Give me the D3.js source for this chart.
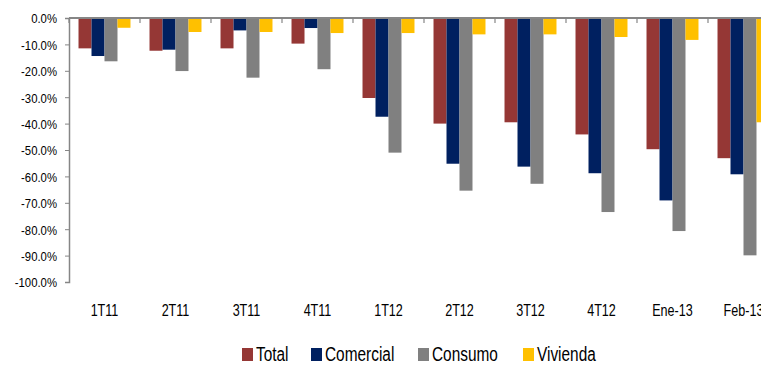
<!DOCTYPE html>
<html>
<head>
<meta charset="utf-8">
<script src="https://cdn.jsdelivr.net/npm/d3@7"></script>
<style>
  body { margin: 0; background: #fff; }
  svg text { font-family: "Liberation Sans", Arial, sans-serif; fill: #000; }
</style>
</head>
<body>
<div id="chart"></div>
<script>
// categories and series (percent change)
var categories = ["1T11", "2T11", "3T11", "4T11", "1T12", "2T12", "3T12", "4T12", "Ene-13", "Feb-13"];
var seriesNames = ["Total", "Comercial", "Consumo", "Vivienda"];
var total     = [-11.5, -12.4, -11.5, -9.7, -30.3, -40.0, -39.5, -44.1, -49.7, -53.1];
var comercial = [-14.4, -12.0, -4.7, -3.8, -37.4, -55.2, -56.3, -58.8, -69.1, -59.2];
var consumo   = [-16.4, -20.1, -22.6, -19.4, -51.0, -65.4, -62.8, -73.5, -80.7, -89.9];
var vivienda  = [-3.7, -5.3, -5.3, -5.7, -5.7, -6.2, -6.2, -7.2, -8.3, -39.5];
var yTicks = [0, -10, -20, -30, -40, -50, -60, -70, -80, -90, -100];

var colors = ["#953735", "#002060", "#808080", "#FFC000"];
var allSeries = [total, comercial, consumo, vivienda];

var svgWidth = 761;
var svgHeight = 365;

var margin = { top: 18, left: 69 };
var plotWidth = 710;   // runs past the right edge, like the original
var plotHeight = 264;

var svg = d3.select("#chart")
  .append("svg")
  .attr("width", svgWidth)
  .attr("height", svgHeight);

var chartGroup = svg.append("g")
  .attr("transform", `translate(${margin.left}, ${margin.top})`);

// narrow-font look: shorten the text run instead of scaling it
function squeeze(sel, k) {
  sel.each(function() {
    var len = this.getComputedTextLength();
    d3.select(this)
      .attr("textLength", len * k)
      .attr("lengthAdjust", "spacingAndGlyphs");
  });
}

//scales
var x0 = d3.scaleBand()
  .domain(categories)
  .range([0, plotWidth])
  .paddingInner(0.268)
  .paddingOuter(0.134);

var x1 = d3.scaleBand()
  .domain(seriesNames)
  .range([0, x0.bandwidth()]);

var y = d3.scaleLinear()
  .domain([0, -100])
  .range([0, plotHeight]);

//bars
var rows = categories.map(function(c, i) {
  return seriesNames.map(function(s, j) {
    return { cat: c, name: s, value: allSeries[j][i], color: colors[j] };
  });
});

chartGroup.selectAll("g.cat")
  .data(rows)
  .enter()
  .append("g")
  .attr("class", "cat")
  .attr("transform", (d, i) => `translate(${x0(categories[i])}, 0)`)
  .selectAll("rect")
  .data(d => d)
  .enter()
  .append("rect")
  .attr("x", d => x1(d.name))
  .attr("y", y(0))
  .attr("width", x1.bandwidth())
  .attr("height", d => y(d.value) - y(0))
  .attr("fill", d => d.color);

//y axis
var leftAxis = d3.axisLeft(y)
  .tickValues(yTicks)
  .tickSize(4)
  .tickPadding(8)
  .tickFormat(d => d.toFixed(1) + "%");

var yAxis = chartGroup.append("g").call(leftAxis);
yAxis.select(".domain").attr("stroke", "#868686").attr("stroke-width", 1.5);
yAxis.selectAll(".tick line").attr("stroke", "#868686");
yAxis.selectAll("text")
  .attr("dy", "0.36em")
  .style("font-size", "13.5px")
  .attr("fill", "#000")
  .call(squeeze, 0.84);

//x axis at zero, labels drawn below the plot
var boundaries = categories.map(c => x0(c) - x0.step() * x0.paddingInner() / 2).concat([plotWidth]);

var xAxis = chartGroup.append("g");
xAxis.append("line")
  .attr("x1", 0)
  .attr("x2", plotWidth)
  .attr("y1", y(0))
  .attr("y2", y(0))
  .attr("stroke", "#868686")
  .attr("stroke-width", 2);

xAxis.selectAll("line.tick")
  .data(boundaries)
  .enter()
  .append("line")
  .attr("class", "tick")
  .attr("x1", d => d)
  .attr("x2", d => d)
  .attr("y1", y(0))
  .attr("y2", y(0) + 5)
  .attr("stroke", "#868686")
  .attr("stroke-width", 1.2);

xAxis.selectAll("text")
  .data(categories)
  .enter()
  .append("text")
  .attr("x", d => x0(d) + x0.bandwidth() / 2)
  .attr("y", 298)
  .attr("text-anchor", "middle")
  .style("font-size", "17px")
  .text(d => d)
  .call(squeeze, 0.74);

//legend
var legendX = [242, 311, 418, 523];
var legend = svg.append("g");
var items = legend.selectAll("g")
  .data(seriesNames)
  .enter()
  .append("g")
  .attr("transform", (d, i) => `translate(${legendX[i]}, 348)`);

items.append("rect")
  .attr("width", 11)
  .attr("height", 13)
  .attr("fill", (d, i) => colors[i]);

items.append("text")
  .attr("x", 14)
  .attr("y", 13)
  .style("font-size", "20px")
  .text(d => d)
  .call(squeeze, 0.77);
</script>
</body>
</html>
